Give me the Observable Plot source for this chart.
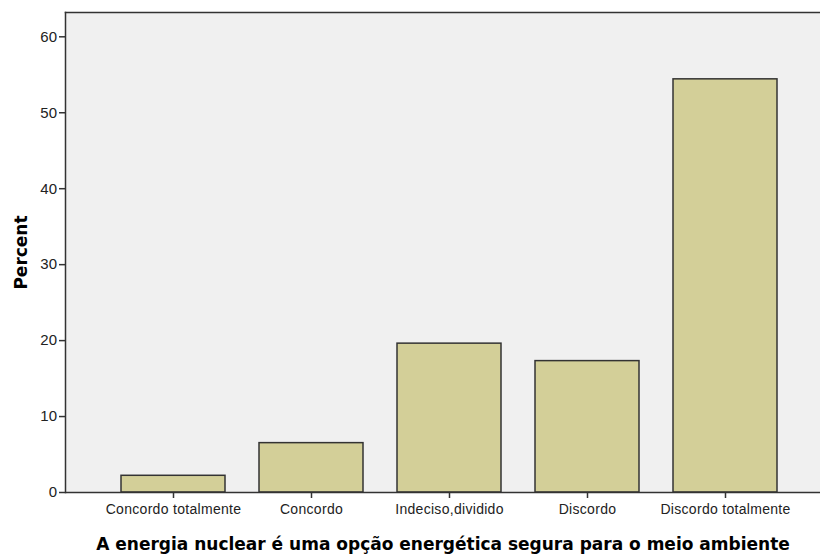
<!DOCTYPE html>
<html>
<head>
<meta charset="utf-8">
<script src="https://cdn.jsdelivr.net/npm/d3@7"></script>
<script src="https://cdn.jsdelivr.net/npm/@observablehq/plot@0.6"></script>
<style>
  body { margin: 0; background: #fff; }
  svg { display: block; }
  .ticklbl text { letter-spacing: 0.3px; }
</style>
</head>
<body>
<div id="chart"></div>
<script>
const categories = ["Concordo totalmente", "Concordo", "Indeciso,dividido", "Discordo", "Discordo totalmente"];
const percents = [2.2, 6.5, 19.6, 17.3, 54.4];
const yTicks = [0, 10, 20, 30, 40, 50, 60];
const xTitle = "A energia nuclear é uma opção energética segura para o meio ambiente";
const yTitle = "Percent";

const data = categories.map((c, i) => ({category: c, percent: percents[i]}));

const chart = Plot.plot({
  width: 820,
  height: 556,
  marginTop: 12,
  marginLeft: 65,
  marginRight: 0,
  marginBottom: 64,
  style: {fontFamily: "'Liberation Sans', Arial, sans-serif", fontSize: "14px", color: "#222", background: "#fff"},
  x: {domain: categories, range: [85.4, 812], padding: 0.25},
  y: {domain: [0, 63.2]},
  marks: [
    Plot.frame({fill: "#f0f0f0", stroke: "none"}),
    Plot.barY(data, {x: "category", y: "percent", fill: "#d3cf98", stroke: "#333", strokeWidth: 1.5}),
    Plot.frame({anchor: "top", stroke: "#333", strokeWidth: 1.5}),
    Plot.frame({anchor: "left", stroke: "#333", strokeWidth: 1.5}),
    Plot.ruleY([0], {stroke: "#333", strokeWidth: 1.5}),
    Plot.axisY({ticks: yTicks, tickSize: 6, tickPadding: 2, label: null, stroke: "#333", strokeWidth: 1.5, fontSize: 15, className: "ticklbl"}),
    Plot.axisX({tickSize: 6, tickPadding: 6, label: null, stroke: "#333", strokeWidth: 1.5, fontSize: 14, className: "ticklbl"}),
    Plot.text([xTitle], {frameAnchor: "bottom", dy: 57, text: d => d, fontWeight: "bold", fontSize: 17, fontFamily: "'DejaVu Sans', sans-serif", fill: "#000"}),
    Plot.text([yTitle], {frameAnchor: "left", dx: -44, rotate: -90, textAnchor: "middle", text: d => d, fontWeight: "bold", fontSize: 17, fontFamily: "'DejaVu Sans', sans-serif", fill: "#000"})
  ]
});
document.getElementById("chart").appendChild(chart);
</script>
</body>
</html>
